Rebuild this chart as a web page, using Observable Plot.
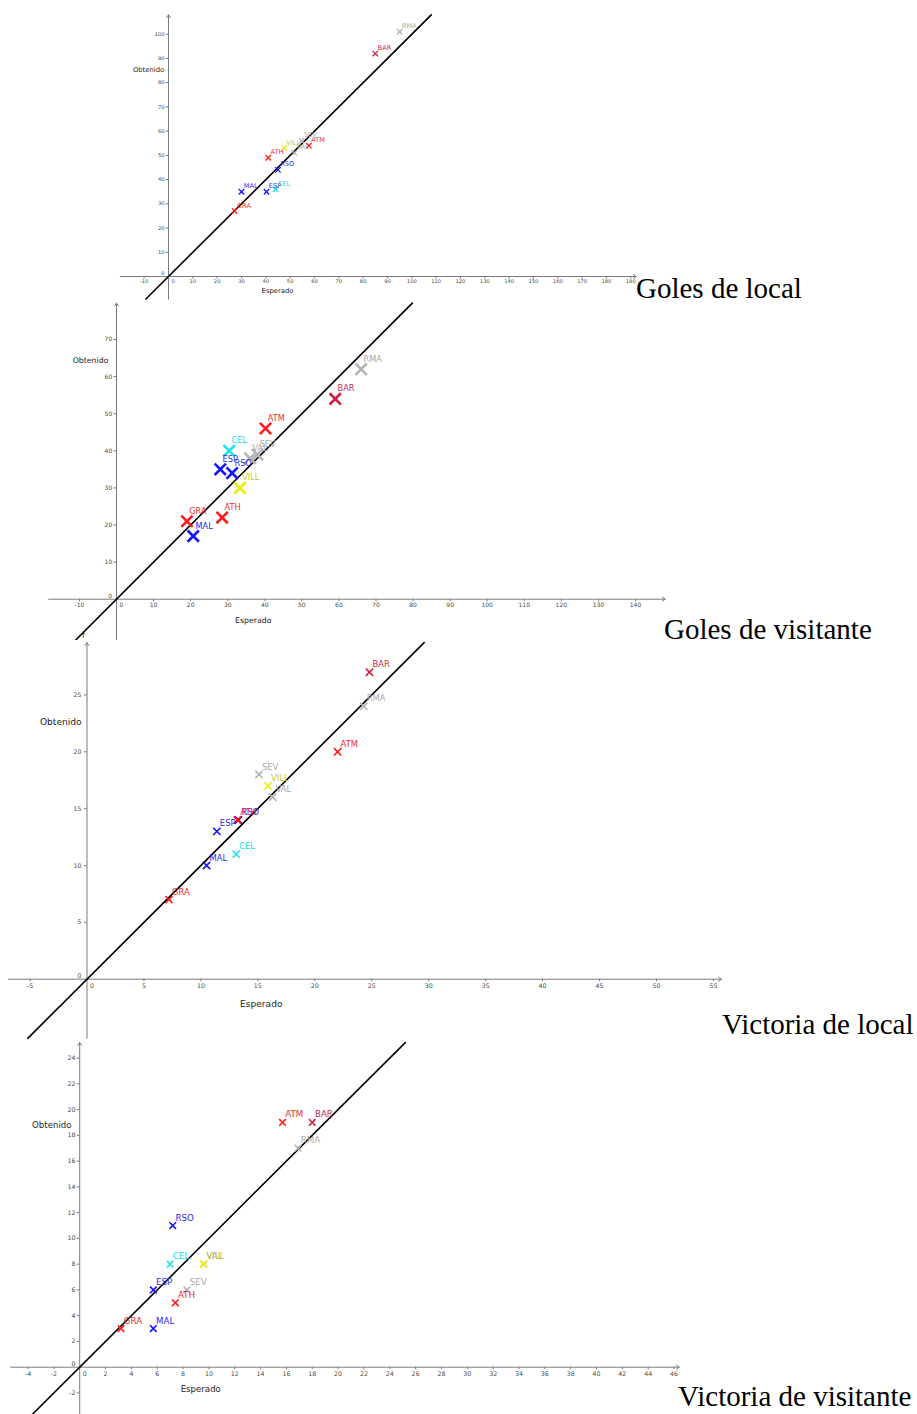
<!DOCTYPE html>
<html><head><meta charset="utf-8">
<script src="https://cdn.jsdelivr.net/npm/d3@7"></script>
<script src="https://cdn.jsdelivr.net/npm/@observablehq/plot@0.6"></script>
<style>
body{margin:0;background:#fff;}
#wrap{position:relative;width:917px;height:1414px;overflow:hidden;background:#fff;}
.panel{position:absolute;left:0;}
.title{position:absolute;font-family:"Liberation Serif","Times New Roman",serif;font-size:29px;line-height:1;color:#000;white-space:nowrap;}
</style></head><body><div id="wrap"></div>
<script>
// Teams (drawing order)
const teams = ["RMA","BAR","ATM","SEV","VAL","VILL","RSO","ATH","MAL","ESP","CEL","GRA"];
const teamColor  = ["#b4b4b4","#cc2244","#ff1a1a","#b4b4b4","#b4b4b4","#ecec00","#1414ff","#ff1a1a","#1414ff","#1414ff","#19e6e6","#ff1a1a"];
const labelColor = ["#a8a8a8","#c42a4a","#ee2a2a","#a8a8a8","#a8a8a8","#c8c81e","#2a2aee","#ee2a2a","#2a2aee","#2a2aee","#22d8d8","#ee2a2a"];

// Goles de local
const glEsperado = [95, 85, 57.7, 54.7, 51.7, 47.5, 45, 41, 30, 40.3, 44, 27.2];
const glObtenido = [101, 92, 54, 56, 51, 53, 44, 49, 35, 35, 36, 27];
// Goles de visitante
const gvEsperado = [66, 59, 40.2, 38, 36, 33.3, 31.2, 28.5, 20.7, 28, 30.4, 19];
const gvObtenido = [62, 54, 46, 39, 38, 30, 34, 22, 17, 35, 40, 21];
// Victoria de local
const vlEsperado = [24.3, 24.8, 22, 15.1, 16.3, 15.9, 13.3, 13.2, 10.5, 11.4, 13.1, 7.2];
const vlObtenido = [24, 27, 20, 18, 16, 17, 14, 14, 10, 13, 11, 7];
// Victoria de visitante
const vvEsperado = [16.9, 18, 15.7, 8.3, 9.6, 9.6, 7.2, 7.4, 5.7, 5.7, 7, 3.2];
const vvObtenido = [17, 19, 19, 6, 8, 8, 11, 5, 3, 6, 8, 3];

// Tick labels
const glXTicks = [-10,10,20,30,40,50,60,70,80,90,100,110,120,130,140,150,160,170,180,190];
const glYTicks = [10,20,30,40,50,60,70,80,90,100];
const gvXTicks = [-10,10,20,30,40,50,60,70,80,90,100,110,120,130,140];
const gvYTicks = [10,20,30,40,50,60,70];
const vlXTicks = [-5,5,10,15,20,25,30,35,40,45,50,55];
const vlYTicks = [5,10,15,20,25];
const vvXTicks = [-4,-2,2,4,6,8,10,12,14,16,18,20,22,24,26,28,30,32,34,36,38,40,42,44,46];
const vvYTicks = [-2,2,4,6,8,10,12,14,16,18,20,22,24];

const titles = ["Goles de local","Goles de visitante","Victoria de local","Victoria de visitante"];

// Layout (pixels) for each panel
const panels = [
  {title: titles[0], esp: glEsperado, obt: glObtenido, xt: glXTicks, yt: glYTicks,
   top: 10, height: 290, ox: 168, oy: 266, kx: 2.433, ky: 2.423, xExt: [-19.8, 192.2], yExt: [-9.3, 108],
   tickFs: 5.2, nameFs: 6.8, labFs: 6.6, r: 2.6, sw: 1.3, tickOff: 5, yTickOff: 4,
   obtPos: [-8.2, 85.4], espPos: [44.8, -5.8], labDx: 2.3, labDy: -3.5, titleX: 636, titleBase: 298},
  {title: titles[1], esp: gvEsperado, obt: gvObtenido, xt: gvXTicks, yt: gvYTicks,
   top: 300, height: 340, ox: 116, oy: 298.7, kx: 3.707, ky: 3.71, xExt: [-18.3, 148], yExt: [-11, 79.8],
   tickFs: 6, nameFs: 7.8, labFs: 8.2, r: 5.2, sw: 2.6, tickOff: 6.3, yTickOff: 4.3,
   obtPos: [-7, 64.4], espPos: [36.9, -5.7], fPos: [-8.9, -9.8], labDx: 2.3, labDy: -7.5, titleX: 664, titleBase: 639},
  {title: titles[2], esp: vlEsperado, obt: vlObtenido, xt: vlXTicks, yt: vlYTicks,
   top: 640, height: 400, ox: 86.5, oy: 338.7, kx: 11.39, ky: 11.37, xExt: [-6.9, 55.7], yExt: [-5.2, 29.6],
   tickFs: 6.3, nameFs: 9.1, labFs: 8.4, r: 3.4, sw: 1.6, tickOff: 7, yTickOff: 5.5,
   obtPos: [-2.3, 22.6], espPos: [15.3, -2.2], labDx: 3, labDy: -5, titleX: 722, titleBase: 1034},
  {title: titles[3], esp: vvEsperado, obt: vvObtenido, xt: vvXTicks, yt: vvYTicks,
   top: 1040, height: 374, ox: 79.2, oy: 326.7, kx: 12.92, ky: 12.88, xExt: [-5.35, 46.4], yExt: [-3.7, 25.2],
   tickFs: 6.3, nameFs: 8.6, labFs: 8.7, r: 3.1, sw: 1.6, tickOff: 6.7, yTickOff: 4.3,
   obtPos: [-2.16, 18.8], espPos: [9.37, -1.73], labDx: 2.7, labDy: -5, titleX: 678, titleBase: 1406}
];

const axisColor = "#7a7a7a";
const tickTextColor = "#4a4a4a";
const sans = "'DejaVu Sans', 'Noto Sans', sans-serif";

const wrap = document.getElementById("wrap");

for (const p of panels) {
  const pts = teams.map((t, i) => ({team: t, x: p.esp[i], y: p.obt[i], c: teamColor[i], lc: labelColor[i]}));
  const lo = Math.max(p.xExt[0], p.yExt[0]), hi = Math.min(p.xExt[1], p.yExt[1]);
  const fline = [{x: lo, y: lo}, {x: hi, y: hi}]; // f(x) = x
  const xAxis = [{x1: p.xExt[0], y1: 0, x2: p.xExt[1], y2: 0}];
  const yAxis = [{x1: 0, y1: p.yExt[0], x2: 0, y2: p.yExt[1]}];
  const names = [
    {t: "Obtenido", x: p.obtPos[0], y: p.obtPos[1]},
    {t: "Esperado", x: p.espPos[0], y: p.espPos[1]}
  ];
  const marks = [
    Plot.arrow(xAxis, {x1: "x1", y1: "y1", x2: "x2", y2: "y2", stroke: axisColor, strokeWidth: 1, headLength: 5, headAngle: 70}),
    Plot.arrow(yAxis, {x1: "x1", y1: "y1", x2: "x2", y2: "y2", stroke: axisColor, strokeWidth: 1, headLength: 5, headAngle: 70}),
    Plot.ruleX(p.xt, {x: d => d, y1: () => 0, y2: () => 0, insetBottom: -2.5, stroke: axisColor, strokeWidth: 1}),
    Plot.ruleY(p.yt, {y: d => d, x1: () => 0, x2: () => 0, insetLeft: -2.5, stroke: axisColor, strokeWidth: 1}),
    Plot.text(p.xt, {x: d => d, y: () => 0, text: d => String(d), dy: p.tickOff, fontSize: p.tickFs, fill: tickTextColor, fontFamily: sans, textAnchor: "middle", lineAnchor: "middle"}),
    Plot.text(p.yt, {x: () => 0, y: d => d, text: d => String(d), dx: -p.yTickOff, fontSize: p.tickFs, fill: tickTextColor, fontFamily: sans, textAnchor: "end", lineAnchor: "middle"}),
    Plot.text([0], {x: () => 0, y: () => 0, text: d => String(d), dx: 3, dy: p.tickOff, fontSize: p.tickFs, fill: tickTextColor, fontFamily: sans, textAnchor: "start", lineAnchor: "middle"}),
    Plot.text([0], {x: () => 0, y: () => 0, text: d => String(d), dx: -p.yTickOff, dy: -3, fontSize: p.tickFs, fill: tickTextColor, fontFamily: sans, textAnchor: "end", lineAnchor: "middle"}),
    Plot.text(names, {x: "x", y: "y", text: "t", fontSize: p.nameFs, fill: "#222", fontFamily: sans, textAnchor: "middle", lineAnchor: "middle"}),
    Plot.line(fline, {x: "x", y: "y", stroke: "#000", strokeWidth: 1.6, clip: true}),
    Plot.dot(pts, {x: "x", y: "y", symbol: "times", r: p.r, stroke: "c", strokeWidth: p.sw}),
    Plot.text(pts, {x: "x", y: "y", text: "team", fill: "lc", dx: p.labDx, dy: p.labDy, fontSize: p.labFs, fontFamily: sans, textAnchor: "start", lineAnchor: "bottom"})
  ];
  if (p.fPos) {
    marks.push(Plot.text([{t: "f", x: p.fPos[0], y: p.fPos[1]}], {x: "x", y: "y", text: "t", fontSize: 8, fill: "#222", fontFamily: sans, textAnchor: "middle", lineAnchor: "middle"}));
  }
  const chart = Plot.plot({
    width: 917, height: p.height,
    marginTop: 0, marginRight: 0, marginBottom: 0, marginLeft: 0,
    x: {domain: p.xExt, range: p.xExt.map(v => p.ox + p.kx * v), axis: null},
    y: {domain: p.yExt, range: p.yExt.map(v => p.oy - p.ky * v), axis: null},
    color: {type: "identity"},
    style: {background: "transparent", overflow: "hidden"},
    marks
  });
  const div = document.createElement("div");
  div.className = "panel";
  div.style.top = p.top + "px";
  div.appendChild(chart);
  wrap.appendChild(div);

  const t = document.createElement("div");
  t.className = "title";
  t.textContent = p.title;
  t.style.left = p.titleX + "px";
  t.style.top = (p.titleBase - 24.3) + "px";
  wrap.appendChild(t);
}
</script>
</body></html>
